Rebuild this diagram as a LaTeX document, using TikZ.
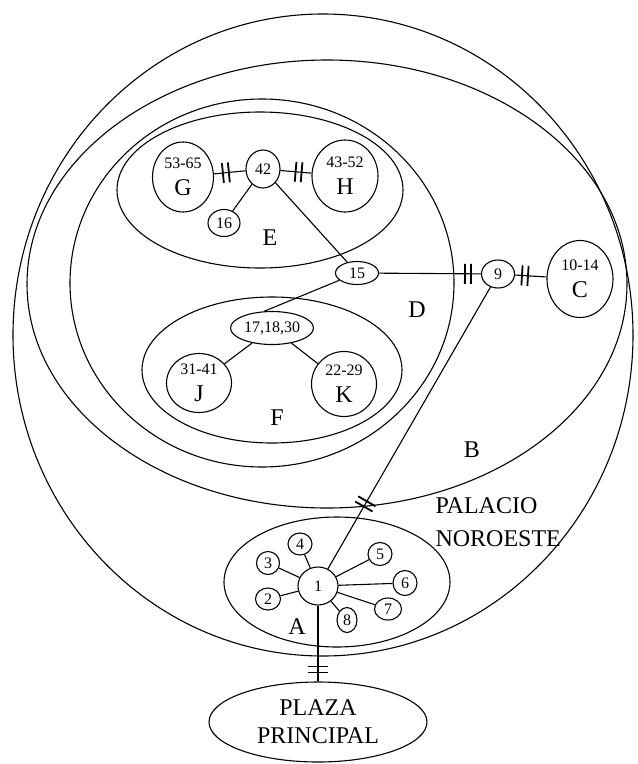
\documentclass[tikz,border=0pt]{standalone}
\usepackage{fontspec}
\setmainfont{Liberation Serif}
\usetikzlibrary{shapes.geometric,decorations.markings}
\newcommand\setfs[2]{\fontsize{#1}{#2}\selectfont}
\begin{document}
\begin{tikzpicture}[x=1pt,y=-1pt,line width=1.1pt,
  blob/.style={draw,ellipse,inner sep=0pt,align=center,font=\setfs{24}{27}},
  num/.style={draw,ellipse,inner sep=0pt,font=\setfs{16}{16}},
  lbl/.style={inner sep=0pt,font=\setfs{24}{24}},
  dbar/.style={postaction={decorate,decoration={markings,
    mark=at position #1 with {\draw[line width=1.8pt,line cap=butt]
      (-3pt,-10pt) -- (-3pt,10pt) (3pt,-10pt) -- (3pt,10pt);}}}}]
\useasboundingbox (0,0) rectangle (638,764);

% nested zones
\draw (323,335) ellipse [x radius=310pt, y radius=321pt];
\draw (327,284) ellipse [x radius=300pt, y radius=224pt];
\draw (262,283) ellipse [x radius=192pt, y radius=184pt];
\draw (260,190) ellipse [x radius=143pt, y radius=78pt];
\draw (272,370) ellipse [x radius=130pt, y radius=73pt];
\draw (337,582) ellipse [x radius=113pt, y radius=65pt];

% zone E
\node[blob,minimum width=61pt,minimum height=70pt] (G) at (183,177) {{\setfs{16}{16}53-65}\\G};
\node[num,minimum width=34pt,minimum height=38pt] (n42) at (263,169) {42};
\node[blob,minimum width=66pt,minimum height=72pt] (H) at (345,176) {{\setfs{16}{16}43-52}\\H};
\node[num,minimum width=32pt,minimum height=27pt] (n16) at (224,223) {16};

% zone D
\node[num,minimum width=43pt,minimum height=23pt] (n15) at (357,273) {15};

% zone F
\node[num,minimum width=83pt,minimum height=33pt] (n171830) at (272,328) {17,18,30};
\node[blob,minimum width=65pt,minimum height=59pt] (J) at (199,383) {{\setfs{16}{16}31-41}\\J};
\node[blob,minimum width=65pt,minimum height=65pt] (K) at (344,384) {{\setfs{16}{16}22-29}\\K};

% zone C and its hall
\node[num,minimum width=33pt,minimum height=28pt] (n9) at (498,274) {9};
\node[blob,minimum width=66pt,minimum height=77pt] (C) at (580,279) {{\setfs{16}{16}10-14}\\C};

% zone A
\node[num,minimum width=40pt,minimum height=38pt] (n1) at (318,586) {1};
\node[num,minimum width=25pt,minimum height=22pt] (n2) at (268,599) {2};
\node[num,minimum width=23pt,minimum height=23pt] (n3) at (268,563) {3};
\node[num,minimum width=24pt,minimum height=22pt] (n4) at (300,544) {4};
\node[num,minimum width=24pt,minimum height=23pt] (n5) at (380,554) {5};
\node[num,minimum width=24pt,minimum height=25pt] (n6) at (405,583) {6};
\node[num,minimum width=27pt,minimum height=22pt] (n7) at (388,609) {7};
\node[num,minimum width=20pt,minimum height=25pt] (n8) at (347,620) {8};

% square
\node[blob,minimum width=218pt,minimum height=80pt,font=\setfs{24}{28}] (plaza) at (318,722) {PLAZA\\PRINCIPAL};

% zone letters
\node[lbl] (labE) at (270,238) {E};
\node[lbl] (labD) at (417,310) {D};
\node[lbl] (labF) at (277,418) {F};
\node[lbl] (labB) at (472,450) {B};
\node[lbl] (labA) at (297,627) {A};
\node[lbl,anchor=base west] (pal1) at (435,513) {PALACIO};
\node[lbl,anchor=base west] (pal2) at (435,546) {NOROESTE};

% passages
\draw[dbar=12pt] (G) -- (n42);
\draw[dbar=-13pt] (n42) -- (H);
\draw (n42) -- (n16);
\draw (n42) -- (n15);
\draw (n15) -- (n171830.115);
\draw (n171830) -- (J);
\draw (n171830) -- (K);
\draw[dbar=-13pt] (n15) -- (n9);
\draw[dbar=10pt] (n9) -- (C);
\draw[dbar=75pt] (n1) -- (n9);
\draw (n1) -- (n2);
\draw (n1) -- (n3);
\draw (n1) -- (n4);
\draw (n1) -- (n5);
\draw (n1) -- (n6);
\draw (n1) -- (n7);
\draw (n1) -- (n8);
\draw[dbar=-12pt] (n1.south) -- (n1.south |- plaza.north);
\end{tikzpicture}
\end{document}
